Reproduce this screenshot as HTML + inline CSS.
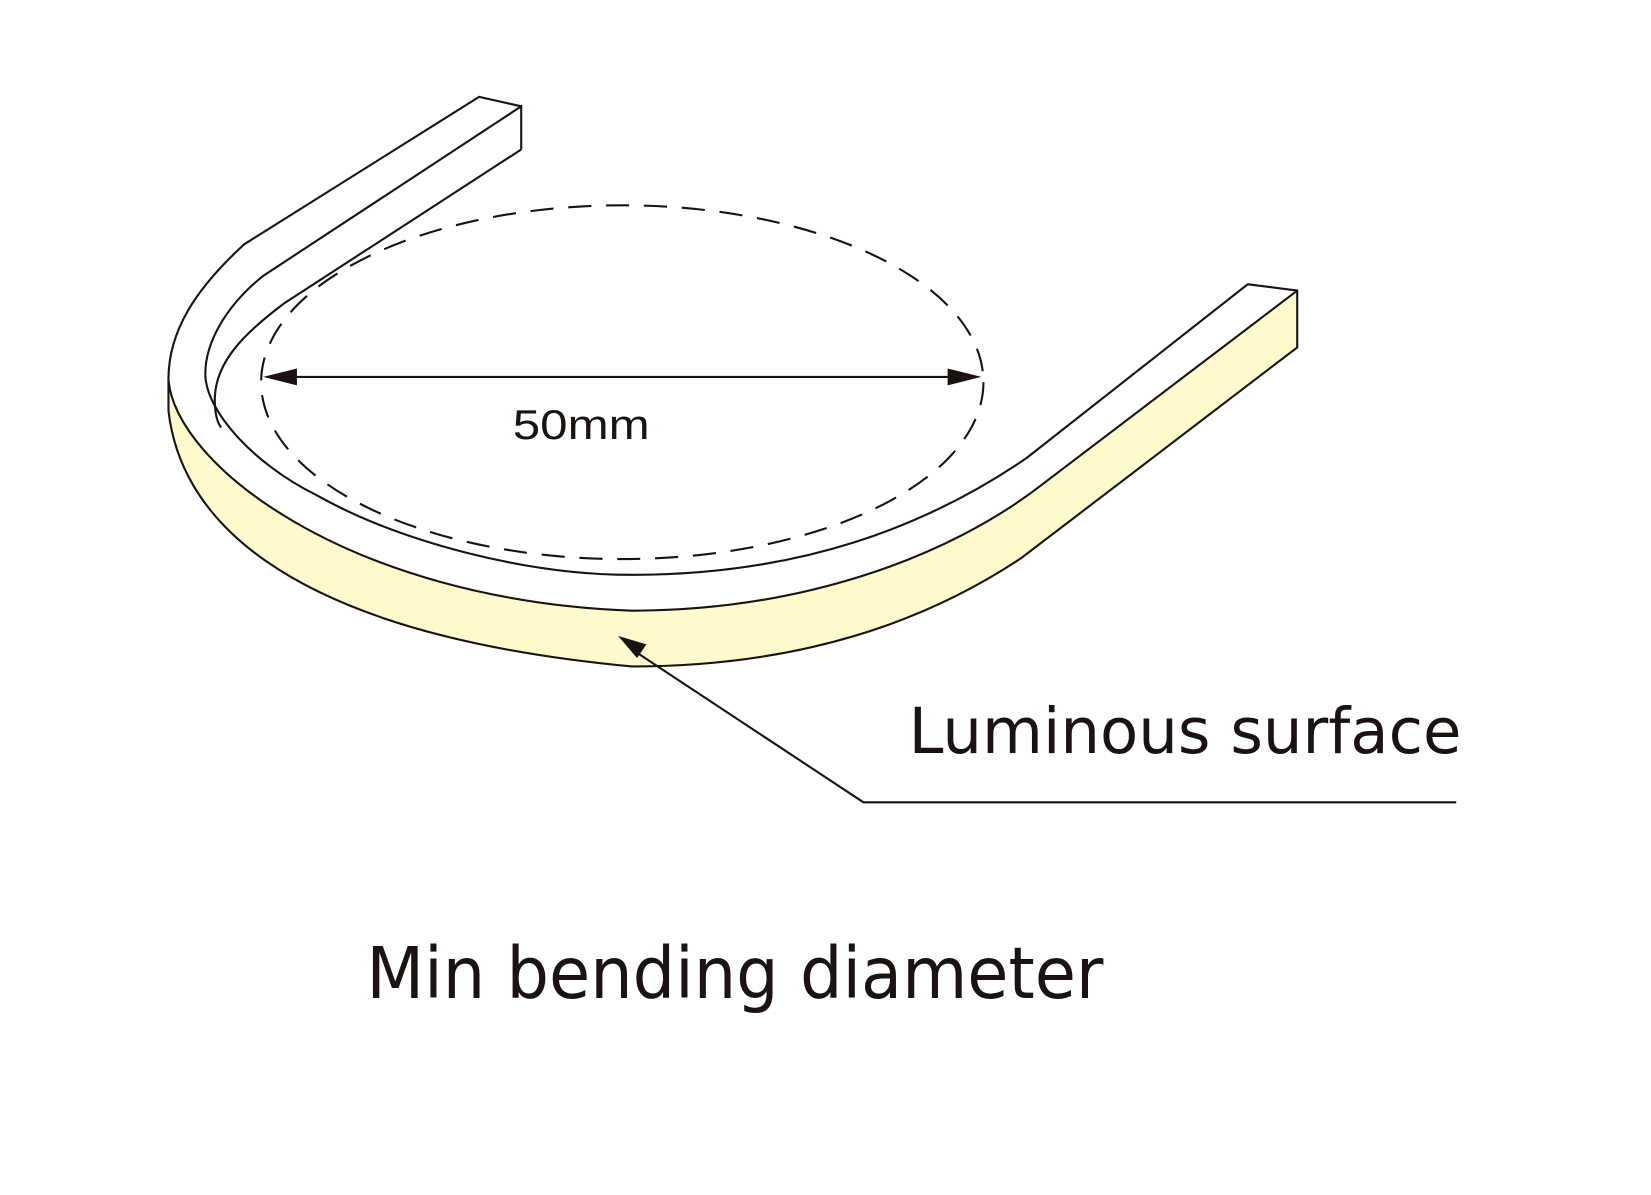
<!DOCTYPE html>
<html><head><meta charset="utf-8"><style>html,body{margin:0;padding:0;background:#fff;}svg{display:block}</style></head>
<body>
<svg width="1651" height="1195" viewBox="0 0 1568 1135" preserveAspectRatio="none" xmlns="http://www.w3.org/2000/svg">
<rect width="1568" height="1135" fill="#fff"/>
<path d="M160,360 C165,440 330,570 600,580 C760,580 900,530 990,460 L1232,276 L1232,330 L970,530 C880,590 760,633 600,633 C250,600 170,480 160,390 Z" fill="#fffacc" stroke="none"/>
<g fill="none" stroke="#1a1311" stroke-width="2">
<path d="M495,101 L455,92 L232,232 C185,275 160,315 160,360 C165,440 330,570 600,580 C760,580 900,530 990,460 L1232,276"/>
<path d="M160,360 L160,390 C170,480 250,600 600,633 C760,633 880,590 970,530 L1232,330 L1232,276 L1185,270 L975,435 C880,500 760,546 600,546 C500,546 380,515 300,470 C240,440 195,390 195,355 C195,325 215,290 250,262 L495,101 L495,142"/>
<path d="M495,142 L270,288 C230,318 204,345 204,380 C204,395 207,402 210,406"/>
<ellipse cx="591" cy="363" rx="343" ry="168" stroke-dasharray="22 14"/>
<line x1="270" y1="358" x2="912" y2="358"/>
<path d="M605,620 L820,762 L1383,762"/>
</g>
<polygon points="250,358 282,350 282,366" fill="#1a1311"/>
<polygon points="932,358 900,350 900,366" fill="#1a1311"/>
<polygon points="587,604 614,612 605,625" fill="#1a1311"/>
<text x="487" y="417" font-family="Liberation Sans, sans-serif" font-size="40" fill="#1a1311" textLength="130" lengthAdjust="spacingAndGlyphs">50mm</text>
<text x="863" y="715" font-family="DejaVu Sans, sans-serif" font-size="60" fill="#1a1311" textLength="525" lengthAdjust="spacingAndGlyphs">Luminous surface</text>
<text x="348" y="948" font-family="DejaVu Sans, sans-serif" font-size="68" fill="#1a1311" textLength="700" lengthAdjust="spacingAndGlyphs">Min bending diameter</text>
</svg>
</body></html>
